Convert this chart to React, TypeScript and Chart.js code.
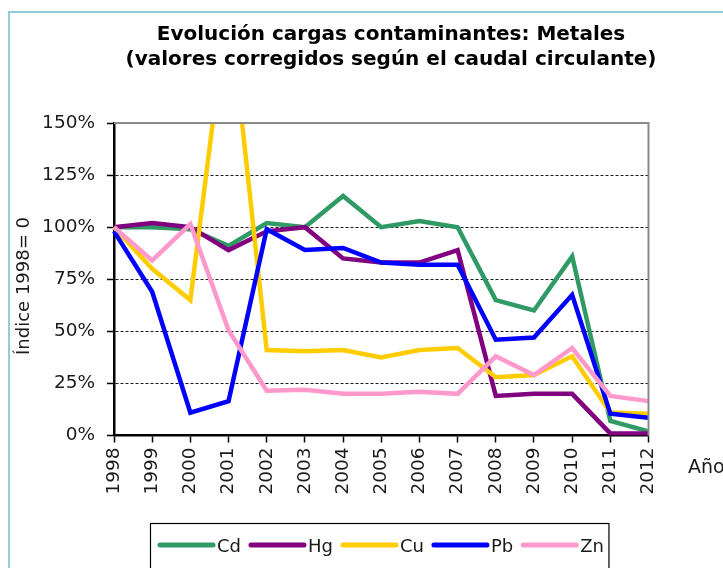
import React, { useEffect, useRef } from 'react';
import { Chart, registerables } from 'chart.js';

Chart.register(...registerables);

// ---- data ----
const years = ['1998', '1999', '2000', '2001', '2002', '2003', '2004', '2005', '2006', '2007', '2008', '2009', '2010', '2011', '2012'];
const cdValues = [100, 100, 99, 91, 102, 100, 115, 100, 103, 100, 65, 60, 86, 7, 2];
const hgValues = [100, 102, 100, 89, 98, 100, 85, 83, 83, 89, 19, 20, 20, 1, 1];
const cuValues = [100, 80, 65, 210, 41, 40.5, 41, 37.5, 41, 42, 28, 29, 38, 11, 10.5];
const pbValues = [98, 69, 11, 16.5, 99, 89, 90, 83, 82, 82, 46, 47, 67.5, 10.5, 8.5];
const znValues = [100, 84, 101.5, 50.5, 21.5, 22, 20, 20, 21, 20, 38, 29, 42, 19, 16.5];

const seriesNames = ['Cd', 'Hg', 'Cu', 'Pb', 'Zn'];
const seriesValues = [cdValues, hgValues, cuValues, pbValues, znValues];
const seriesColors = ['#2f9a64', '#800080', '#ffcc00', '#0000ff', '#ff99cc'];

const yTickValues = [0, 25, 50, 75, 100, 125, 150];
const titleLines = ['Evolución cargas contaminantes: Metales', '(valores corregidos según el caudal circulante)'];
const yTitle = 'Índice 1998= 0';
const xTitle = 'Año';

const FONT = '"DejaVu Sans", "Liberation Sans", Arial, sans-serif';

const decorPlugin = {
  id: 'decor',
  beforeDraw(chart: any) {
    const ctx = chart.ctx;
    ctx.save();
    ctx.fillStyle = '#ffffff';
    ctx.fillRect(0, 0, chart.width, chart.height);
    ctx.strokeStyle = '#92cddc';
    ctx.lineWidth = 2;
    ctx.strokeRect(9, 12, 900, 800);
    ctx.restore();
  },
  afterDraw(chart: any) {
    const ctx = chart.ctx;
    const a = chart.chartArea;
    ctx.save();
    // plot frame (top and right)
    ctx.strokeStyle = '#8a8a8a';
    ctx.lineWidth = 2;
    ctx.beginPath();
    ctx.moveTo(a.left, a.top);
    ctx.lineTo(a.right, a.top);
    ctx.lineTo(a.right, a.bottom);
    ctx.stroke();

    // title
    ctx.fillStyle = '#000';
    ctx.font = `bold 20px ${FONT}`;
    ctx.textAlign = 'center';
    ctx.textBaseline = 'alphabetic';
    titleLines.forEach((t, i) => ctx.fillText(t, 391, 40 + i * 25));

    // y axis title
    ctx.save();
    ctx.translate(28.5, 286);
    ctx.rotate(-Math.PI / 2);
    ctx.font = `18px ${FONT}`;
    ctx.fillStyle = '#1a1a1a';
    ctx.textAlign = 'center';
    ctx.fillText(yTitle, 0, 0);
    ctx.restore();

    // x axis title
    ctx.font = `19px ${FONT}`;
    ctx.fillStyle = '#1a1a1a';
    ctx.textAlign = 'left';
    ctx.fillText(xTitle, 688, 473);

    // legend
    ctx.font = `18px ${FONT}`;
    const lineLen = 53;
    const ly = 545;
    let x = 160;
    ctx.lineCap = 'round';
    seriesNames.forEach((name, i) => {
      ctx.strokeStyle = seriesColors[i];
      ctx.lineWidth = 5;
      ctx.beginPath();
      ctx.moveTo(x, ly);
      ctx.lineTo(x + lineLen, ly);
      ctx.stroke();
      const tx = x + lineLen + 4;
      ctx.fillStyle = '#1a1a1a';
      ctx.fillText(name, tx, 552);
      const w = ctx.measureText(name).width;
      x = tx + w + (i < seriesNames.length - 1 ? 10 : 0);
    });
    ctx.lineCap = 'butt';
    ctx.strokeStyle = '#000';
    ctx.lineWidth = 1.2;
    ctx.strokeRect(150.5, 523.5, x + 5 - 150.5, 100);
    ctx.restore();
  },
};

export default function App() {
  const ref = useRef<HTMLCanvasElement | null>(null);

  useEffect(() => {
    if (!ref.current) return;
    const chart = new Chart(ref.current, {
      type: 'line',
      data: {
        labels: years,
        datasets: seriesNames.map((name, i) => ({
          label: name,
          data: seriesValues[i],
          borderColor: seriesColors[i],
          backgroundColor: seriesColors[i],
          borderWidth: 4.5,
          pointRadius: 0,
          pointHoverRadius: 0,
          tension: 0,
          fill: false,
          order: seriesNames.length - i,
        })),
      },
      options: {
        responsive: false,
        animation: false,
        devicePixelRatio: 1,
        layout: { padding: { top: 123, right: 74.5, bottom: 62.5, left: 0 } },
        plugins: {
          legend: { display: false },
          title: { display: false },
          tooltip: { enabled: false },
        },
        scales: {
          x: {
            type: 'category',
            position: 'bottom',
            offset: false,
            afterFit: (s: any) => { s.height = 70; },
            grid: {
              drawOnChartArea: false,
              drawTicks: true,
              tickLength: 7,
              tickColor: '#000',
              tickWidth: 1.5,
            },
            border: { display: true, color: '#000', width: 2.5 },
            ticks: {
              autoSkip: false,
              maxRotation: 90,
              minRotation: 90,
              padding: 5,
              color: '#1a1a1a',
              font: { family: FONT, size: 18.5 },
            },
          },
          y: {
            type: 'linear',
            position: 'left',
            min: 0,
            max: 150,
            afterFit: (s: any) => { s.width = 114; },
            afterBuildTicks: (s: any) => { s.ticks = yTickValues.map((v) => ({ value: v })); },
            grid: {
              color: (c: any) => (c.tick && (c.tick.value === 0 || c.tick.value === 150) ? 'rgba(0,0,0,0)' : '#1a1a1a'),
              lineWidth: 1,
              drawTicks: true,
              tickLength: 7,
              tickColor: '#000',
              tickWidth: 1.5,
              tickBorderDash: [],
            },
            border: { display: true, color: '#000', width: 2.5, dash: [3, 2] },
            ticks: {
              padding: 12,
              color: '#1a1a1a',
              font: { family: FONT, size: 18.5 },
              callback: (v: any) => `${v}%`,
            },
          },
        },
      },
      plugins: [decorPlugin],
    } as any);
    return () => chart.destroy();
  }, []);

  return (
    <div style={{ position: 'absolute', left: 0, top: 0, width: 723, height: 568, background: '#fff', overflow: 'hidden' }}>
      <canvas ref={ref} width={723} height={568} style={{ display: 'block', width: 723, height: 568 }} />
    </div>
  );
}
